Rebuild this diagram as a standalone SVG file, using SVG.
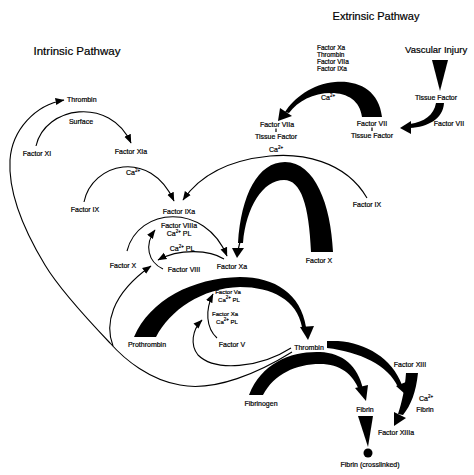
<svg xmlns="http://www.w3.org/2000/svg" width="474" height="475" viewBox="0 0 474 475">
<style>
text{font-family:"Liberation Sans",Arial,Helvetica,sans-serif;fill:#000;stroke:#000;stroke-width:0.2}
.t{font-size:7px;text-anchor:middle}
.s{font-size:6px;text-anchor:middle}
.l{font-size:6.5px;text-anchor:start}
.h{font-size:11px;text-anchor:middle}
.sup{font-size:4.5px}
.ln{fill:none;stroke:#000;stroke-width:1.1}
.fill{fill:#000;stroke:none}
</style>
<defs>
<marker id="ah" markerWidth="10" markerHeight="8" refX="8.5" refY="4" orient="auto" markerUnits="userSpaceOnUse">
<path d="M0,0.5 L9,4 L0,7.5 Z" fill="#000"/>
</marker>
</defs>
<rect width="474" height="475" fill="#fff"/>

<g id="connectors">
<path class="ln" marker-end="url(#ah)" d="M36,146 C45,106 110,96 131,143"/>
<path class="ln" marker-end="url(#ah)" d="M84,202 C92,163 150,148 174,201"/>
<path class="ln" marker-end="url(#ah)" d="M367,198 C345,160 300,153 270,156 C230,160 200,175 183,200"/>
<path class="ln" marker-end="url(#ah)" d="M127,251 C138,207 205,202 227,256"/>
<path class="ln" marker-end="url(#ah)" d="M163,269 C148,262 144,245 155,230"/>
<path class="ln" marker-end="url(#ah)" d="M224,259 C210,250 180,248 158,260"/>
<path class="ln" marker-end="url(#ah)" d="M217,338 C206,328 205,310 213,294"/>
<path class="ln" marker-end="url(#ah)" d="M291,348 C260,368 215,372 198,355 C190,345 192,330 202,320"/>
<path class="ln" marker-end="url(#ah)" d="M292,352 C260,372 215,392 180,385 C150,380 125,360 110,343 C90,322 60,290 45,265 C25,232 8,195 10,160 C12,130 35,105 64,100"/>
<path class="ln" marker-end="url(#ah)" d="M113,346 C105,325 110,295 151,266"/>

<!-- Vascular injury -->
<polygon class="fill" points="432,60 448,60 440,91"/>
<!-- Tissue factor -> Factor VII -->
<path class="fill" d="M436,103 L444,103 C443,119 428,127 410,128 L410,124 C424,122 434,115 436,103 Z"/>
<polygon class="fill" points="411,121 411,134 400,128"/>
<!-- Factor VII -> VIIa -->
<path class="fill" d="M382,117 C379,90 358,80 335,82 C312,84 294,98 285,112 L289,113 C298,101 313,93 331,93 C348,93 360,101 362,117 Z"/>
<polygon class="fill" points="280,108 292,116 278,121"/>
<!-- Factor X -> Xa (extrinsic) -->
<path class="fill" d="M333,252 C331,205 315,162 285,162 C258,162 241,195 238,243 L243,243 C246,207 263,180 284,180 C301,180 309,205 311,252 Z"/>
<path class="ln" d="M240,242 L238,250"/>
<polygon class="fill" points="232,248 244,248 237,258"/>
<!-- Prothrombin -> Thrombin -->
<path class="fill" d="M134,337 C150,300 192,278 240,277 C275,277 301,294 306,327 L302,327 C297,300 272,287 240,287 C202,288 170,310 156,337 Z"/>
<polygon class="fill" points="300,327 314,326 308,340"/>
<!-- Fibrinogen -> Fibrin -->
<path class="fill" d="M249,395 C262,362 292,351 320,352 C343,353 358,366 363,389 L359,390 C353,374 340,364 320,364 C296,364 274,374 263,395 Z"/>
<polygon class="fill" points="355,388 368,385 366,401"/>
<!-- Thrombin -> Factor XIII -->
<path class="fill" d="M327,341 L338,341 C366,343 392,358 402,385 L398,387 C388,365 360,352 327,348 Z"/>
<polygon class="fill" points="396,386 406,382 405,394"/>
<!-- Factor XIII -> XIIIa -->
<path class="fill" d="M406,373 L418,373 C416,392 411,405 403,415 L398,414 C402,402 405,388 406,373 Z"/>
<polygon class="fill" points="394,412 406,418 394,426"/>
<!-- Fibrin -> crosslinked -->
<polygon class="fill" points="358,416 373,416 368,447"/>
<circle class="fill" cx="368" cy="453" r="4.5"/>
</g>

<g id="title-extrinsic"><text class="h" x="376" y="20">Extrinsic Pathway</text></g>
<g id="title-intrinsic"><text class="h" x="77" y="55" style="font-size:11.5px">Intrinsic Pathway</text></g>
<g id="vascular-injury"><text x="405" y="52.5" style="font-size:9.5px">Vascular Injury</text></g>
<g id="tissue-factor"><text class="t" x="436" y="99.5">Tissue Factor</text></g>
<g id="factor-vii-r"><text class="t" x="449" y="125.5">Factor VII</text></g>
<g id="cofactors-vii">
<text class="l" x="317" y="50">Factor Xa</text>
<text class="l" x="317" y="57">Thrombin</text>
<text class="l" x="317" y="64">Factor VIIa</text>
<text class="l" x="317" y="71">Factor IXa</text>
</g>
<g id="ca-vii"><text class="t" x="328" y="99.5">Ca<tspan class="sup" dy="-3">2+</tspan></text></g>
<g id="factor-vii-tf">
<text class="t" x="372" y="125.5">Factor VII</text>
<line x1="372" y1="127.5" x2="372" y2="131" stroke="#000" stroke-width="1.2"/>
<text class="t" x="372" y="137.5">Tissue Factor</text>
</g>
<g id="factor-viia-tf">
<text class="t" x="277" y="126.5">Factor VIIa</text>
<line x1="276" y1="128.5" x2="276" y2="132" stroke="#000" stroke-width="1.2"/>
<text class="t" x="276" y="138.5">Tissue Factor</text>
</g>
<g id="ca-ix-r"><text class="t" x="276" y="151.5">Ca<tspan class="sup" dy="-3">2+</tspan></text></g>
<g id="factor-ix-r"><text class="t" x="367" y="206.5">Factor IX</text></g>
<g id="factor-x-r"><text class="t" x="319" y="262.5">Factor X</text></g>

<g id="thrombin-top"><text x="67" y="101.5" style="font-size:7px">Thrombin</text></g>
<g id="surface"><text class="t" x="81" y="123.5">Surface</text></g>
<g id="factor-xi"><text class="t" x="37" y="155.5">Factor XI</text></g>
<g id="factor-xia"><text class="t" x="131" y="153.5">Factor XIa</text></g>
<g id="ca-ix-l"><text class="t" x="133" y="174.5">Ca<tspan class="sup" dy="-3">2+</tspan></text></g>
<g id="factor-ix-l"><text class="t" x="85" y="211.5">Factor IX</text></g>
<g id="factor-ixa"><text class="t" x="179" y="213.5">Factor IXa</text></g>
<g id="factor-viiia">
<text class="t" x="179" y="227.5">Factor VIIIa</text>
<text class="t" x="179" y="235.5">Ca<tspan class="sup" dy="-3">2+</tspan><tspan dy="3"> PL</tspan></text>
</g>
<g id="ca-pl-viii"><text class="t" x="182" y="250.5">Ca<tspan class="sup" dy="-3">2+</tspan><tspan dy="3"> PL</tspan></text></g>
<g id="factor-x-l"><text class="t" x="123" y="267.5">Factor X</text></g>
<g id="factor-viii"><text class="t" x="184" y="271.5">Factor VIII</text></g>
<g id="factor-xa"><text class="t" x="232" y="268.5">Factor Xa</text></g>
<g id="factor-va">
<text class="s" x="228" y="293.5">Factor Va</text>
<text class="s" x="229" y="301.5">Ca<tspan class="sup" dy="-3">2+</tspan><tspan dy="3"> PL</tspan></text>
</g>
<g id="cofactor-xa">
<text class="s" x="225" y="315.5">Factor Xa</text>
<text class="s" x="227" y="323.5">Ca<tspan class="sup" dy="-3">2+</tspan><tspan dy="3"> PL</tspan></text>
</g>
<g id="prothrombin"><text class="t" x="147" y="346.5">Prothrombin</text></g>
<g id="factor-v"><text class="t" x="232" y="346.5">Factor V</text></g>
<g id="thrombin"><text class="t" x="309" y="349.5">Thrombin</text></g>
<g id="fibrinogen"><text class="t" x="261" y="405.5">Fibrinogen</text></g>
<g id="fibrin"><text class="t" x="365" y="411.5">Fibrin</text></g>
<g id="fibrin-crosslinked"><text class="t" x="370" y="466.5">Fibrin (crosslinked)</text></g>
<g id="factor-xiii"><text class="t" x="410" y="367">Factor XIII</text></g>
<g id="ca-fibrin-xiii">
<text class="t" x="426" y="400.5">Ca<tspan class="sup" dy="-3">2+</tspan></text>
<text class="t" x="425" y="411.5">Fibrin</text>
</g>
<g id="factor-xiiia"><text class="t" x="396" y="434.5">Factor XIIIa</text></g>
</svg>
